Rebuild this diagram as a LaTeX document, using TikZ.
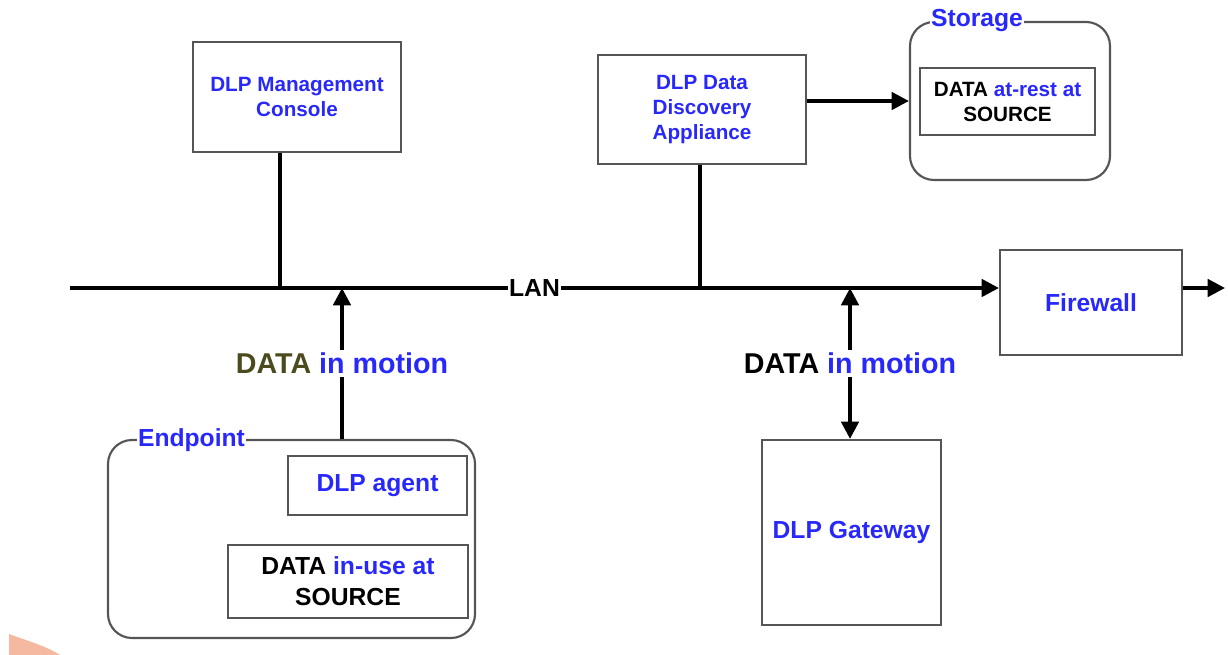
\documentclass[tikz,border=0pt]{standalone}
\usepackage{fontspec}
\setmainfont{Liberation Sans}
\usetikzlibrary{arrows.meta}
\definecolor{dlpblue}{RGB}{40,40,250}
\definecolor{dataolive}{RGB}{75,75,30}
\definecolor{boxgray}{RGB}{85,85,85}
\definecolor{swoosh}{RGB}{244,185,160}
\begin{document}
\begin{tikzpicture}[x=0.75pt,y=-0.75pt,
 box/.style={draw=boxgray,line width=1.6pt,inner sep=0pt,align=center,font=\bfseries\fontsize{18.5}{23}\selectfont,text=dlpblue},
 smalltext/.style={font=\bfseries\fontsize{15.5}{18.75}\selectfont},
 group/.style={draw=boxgray,line width=1.6pt,rounded corners=18pt,inner sep=0pt},
 grouplabel/.style={fill=white,inner sep=1pt,font=\bfseries\fontsize{18.5}{22}\selectfont,text=dlpblue},
 wire/.style={line width=2.8pt,draw=black},
 tip/.tip={Triangle[length=13pt,width=13pt]},
 arr/.style={wire,-tip},
 lanlbl/.style={fill=white,inner sep=1pt,font=\bfseries\fontsize{18.5}{22}\selectfont},
 motion/.style={fill=white,inner sep=2pt,font=\bfseries\fontsize{21.5}{26}\selectfont},
]
\useasboundingbox (0,0) rectangle (1228,655);
\fill[swoosh] (9,634) .. controls (28,641) and (46,646) .. (60,655) -- (9,655) -- cycle;

% top boxes
\node[box,smalltext,minimum width=156pt,minimum height=82.5pt] (console) at (297,97) {DLP Management\\Console};
\node[box,smalltext,minimum width=156pt,minimum height=81.75pt] (discovery) at (702,109.5) {DLP Data\\Discovery\\Appliance};

% storage group
\node[group,minimum width=150pt,minimum height=118.5pt] (storage) at (1010,101) {};
\node[grouplabel] (storagelbl) at (977,21) {Storage};
\node[box,smalltext,text=black,minimum width=131.25pt,minimum height=50.25pt] (atrest) at (1007.5,101.5) {DATA \textcolor{dlpblue}{at-rest at}\\SOURCE};

% firewall
\node[box,minimum width=136.5pt,minimum height=78.75pt] (firewall) at (1091,302.5) {Firewall};

% endpoint group
\node[group,minimum width=275.25pt,minimum height=148.5pt] (endpoint) at (291.5,539) {};
\node[grouplabel] (endpointlbl) at (191.5,440) {Endpoint};
\node[box,minimum width=134.25pt,minimum height=44.25pt] (agent) at (377.5,485.5) {DLP agent};
\node[box,text=black,minimum width=180pt,minimum height=54.75pt] (inuse) at (348,581.5) {DATA \textcolor{dlpblue}{in-use at}\\SOURCE};

% gateway
\node[box,minimum width=134.25pt,minimum height=138.75pt] (gateway) at (851.5,532.5) {DLP Gateway};

% LAN
\coordinate (lanL) at (70,288);
\coordinate (consoleTap) at (280,288);
\coordinate (discTap) at (700,288);
\coordinate (epTap) at (342,288);
\coordinate (gwTap) at (850,288);
\coordinate (out) at (1225,288);

\draw[arr] (lanL) -- node[lanlbl] (lan) {LAN} (firewall.west |- lanL);
\draw[arr] (firewall.east |- lanL) -- (out);
\draw[wire] (console.south -| consoleTap) -- (consoleTap);
\draw[wire] (discovery.south -| discTap) -- (discTap);
\draw[arr] (discovery.east |- storage.west) -- (storage.west);

\draw[arr] (endpoint.north -| epTap) -- node[motion] (m1) {\textcolor{dataolive}{DATA} \textcolor{dlpblue}{in motion}} (epTap);
\draw[wire,tip-tip] (gwTap) -- node[motion] (m2) {DATA \textcolor{dlpblue}{in motion}} (gateway.north -| gwTap);
\end{tikzpicture}
\end{document}
